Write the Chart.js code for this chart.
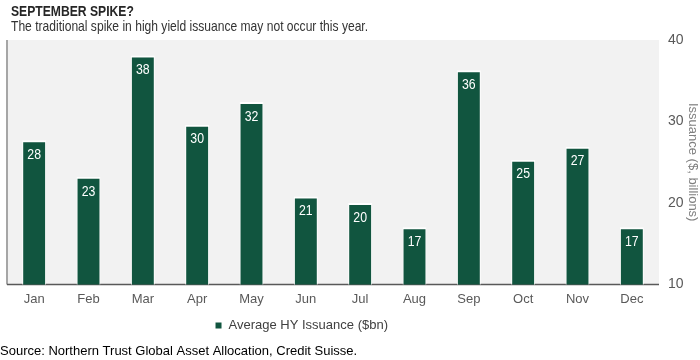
<!DOCTYPE html>
<html>
<head>
<meta charset="utf-8">
<script src="https://cdn.jsdelivr.net/npm/chart.js@4/dist/chart.umd.min.js"></script>
<style>
  html, body { margin: 0; padding: 0; background: #fff; }
  #wrap { width: 700px; height: 360px; position: relative; }
</style>
</head>
<body>
<div id="wrap"><canvas id="c" width="700" height="360"></canvas></div>
<script>
const months = ['Jan', 'Feb', 'Mar', 'Apr', 'May', 'Jun', 'Jul', 'Aug', 'Sep', 'Oct', 'Nov', 'Dec'];
const issuance = [27.7, 23.2, 38.1, 29.6, 32.4, 20.8, 20.0, 17.0, 36.3, 25.3, 26.9, 17.0];
const barLabels = ['28', '23', '38', '30', '32', '21', '20', '17', '36', '25', '27', '17'];
const yTicks = [10, 20, 30, 40];

const sans = '"Liberation Sans", Arial, sans-serif';
const green = '#11553F';

// draw text squeezed horizontally, to mimic the narrow font of the original
function narrowText(ctx, text, x, y, squeeze) {
  ctx.save();
  ctx.translate(x, y);
  ctx.scale(squeeze, 1);
  ctx.fillText(text, 0, 0);
  ctx.restore();
}

// grey plot background + left/bottom lines
const plotBg = {
  id: 'plotBg',
  beforeDraw(chart) {
    const { ctx, chartArea: a } = chart;
    ctx.save();
    ctx.fillStyle = '#F2F2F2';
    ctx.fillRect(a.left, a.top, a.right - a.left, a.bottom - a.top);
    ctx.strokeStyle = '#A6A6A6';
    ctx.lineWidth = 2;
    ctx.beginPath();
    ctx.moveTo(a.left, a.top);
    ctx.lineTo(a.left, a.bottom);
    ctx.stroke();
    ctx.strokeStyle = '#595959';
    ctx.lineWidth = 1.5;
    ctx.beginPath();
    ctx.moveTo(a.left, a.bottom);
    ctx.lineTo(a.right, a.bottom);
    ctx.stroke();
    ctx.restore();
  }
};

// white value labels inside the bar tops
const valueLabels = {
  id: 'valueLabels',
  afterDatasetsDraw(chart) {
    const { ctx } = chart;
    const meta = chart.getDatasetMeta(0);
    ctx.save();
    ctx.fillStyle = '#FFFFFF';
    ctx.font = '15px ' + sans;
    ctx.textAlign = 'center';
    ctx.textBaseline = 'top';
    meta.data.forEach((bar, i) => {
      narrowText(ctx, barLabels[i], bar.x, bar.y + 7, 0.82);
    });
    ctx.restore();
  }
};

// heading, sub-heading and source line
const texts = {
  id: 'texts',
  afterLayout(chart) {
    // the legend sits a bit left of centre and a little higher in the original
    chart.legend.left -= 52;
    chart.legend.right -= 52;
    chart.legend.top -= 3;
    chart.legend.bottom -= 3;
  },
  afterDraw(chart) {
    const { ctx } = chart;
    ctx.save();
    ctx.textAlign = 'left';
    ctx.textBaseline = 'alphabetic';
    ctx.fillStyle = '#262626';
    ctx.font = 'bold 15px ' + sans;
    narrowText(ctx, 'SEPTEMBER SPIKE?', 11, 16, 0.81);
    ctx.fillStyle = '#333333';
    ctx.font = '15px ' + sans;
    narrowText(ctx, 'The traditional spike in high yield issuance may not occur this year.', 11, 31, 0.805);
    ctx.fillStyle = '#000';
    ctx.font = '13px ' + sans;
    ctx.fillText('Source: Northern Trust Global Asset Allocation, Credit Suisse.', 0, 355);
    ctx.restore();
  }
};

new Chart(document.getElementById('c'), {
  type: 'bar',
  data: {
    labels: months,
    datasets: [{
      label: 'Average HY Issuance ($bn)',
      data: issuance,
      backgroundColor: green,
      borderColor: '#FFFFFF',
      borderWidth: { top: 2, left: 1, right: 1, bottom: 0 },
      borderSkipped: 'bottom',
      barPercentage: 0.44,
      categoryPercentage: 1.0
    }]
  },
  options: {
    responsive: false,
    animation: false,
    layout: { padding: { left: 7, right: 0, top: 40, bottom: 15 } },
    plugins: {
      title: { display: false },
      legend: {
        position: 'bottom',
        labels: {
          color: '#404040',
          font: { family: sans, size: 13 },
          boxWidth: 7,
          boxHeight: 7,
          padding: 8
        }
      },
      tooltip: { enabled: false }
    },
    scales: {
      x: {
        grid: { display: false, drawTicks: false },
        border: { display: false },
        ticks: { color: '#595959', font: { family: sans, size: 13 }, padding: 7 }
      },
      y: {
        position: 'right',
        min: 10,
        max: 40,
        afterBuildTicks(axis) { axis.ticks = yTicks.map(v => ({ value: v })); },
        afterFit(axis) { axis.width = 41; },
        grid: { display: false, drawTicks: false },
        border: { display: false },
        ticks: { color: '#595959', font: { family: sans, size: 14 }, padding: 9 },
        title: {
          display: true,
          text: 'Issuance ($, billions)',
          color: '#7F7F7F',
          font: { family: sans, size: 13 },
          padding: { top: 0, bottom: 1 }
        }
      }
    }
  },
  plugins: [plotBg, valueLabels, texts]
});
</script>
</body>
</html>
